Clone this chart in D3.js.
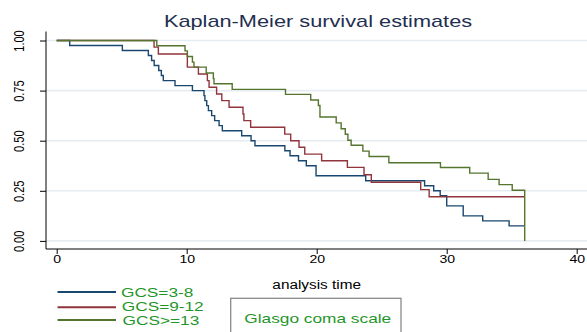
<!DOCTYPE html>
<html>
<head>
<meta charset="utf-8">
<script src="https://cdn.jsdelivr.net/npm/d3@7"></script>
<style>
  html, body { margin: 0; padding: 0; background: #fff; }
  svg { display: block; font-family: "Liberation Sans", Arial, sans-serif; }
</style>
</head>
<body>
<div id="chart"></div>
<script>
// KM estimates, one time/survival pair per GCS group
const groups = ['GCS=3-8', 'GCS=9-12', 'GCS>=13'];

const timesLow = [0, 1, 5.05, 7.05, 7.3, 7.5, 7.85, 8.05, 8.2, 9.1,
  10.44, 11.33, 11.4, 11.54, 11.67, 11.92, 12.15, 12.49, 12.74, 14.23,
  14.95, 15.25, 17.55, 17.95, 18.6, 19.2, 19.95, 23.77, 28.3, 29.0,
  29.5, 30.0, 31.27, 32.77, 34.8, 36];
const survLow = [1, .975, .95, .925, .9, .875, .85, .825, .8, .775,
  .75, .725, .7, .675, .65, .625, .6, .575, .55, .525,
  .5, .475, .45, .425, .4, .375, .325, .3, .275, .25,
  .225, .175, .125, .1, .075, .075];

const timesMid = [0, 7.49, 7.82, 10.05, 10.9, 11.59, 11.72, 12.3, 12.7, 13.26,
  14.33, 14.4, 14.92, 17.54, 18.0, 18.64, 19.08, 20.38, 22.36, 23.64,
  24.2, 28.0, 28.65, 36];
const survMid = [1, .967, .933, .867, .833, .8, .767, .733, .7, .667,
  .633, .6, .567, .533, .5, .467, .433, .4, .367, .33,
  .293, .256, .22, .22];

const timesHigh = [0, 7.7, 9.87, 10.05, 10.44, 10.56, 11.5, 12.05, 12.1, 13.5,
  17.6, 19.54, 20.13, 20.25, 21.5, 21.88, 22.2, 22.4, 22.65, 23.55,
  24.03, 25.55, 29.52, 31.77, 33.19, 34.03, 35.04, 36];
const survHigh = [1, .974, .948, .92, .892, .867, .838, .81, .784, .756,
  .731, .703, .676, .618, .589, .56, .532, .502, .477, .448,
  .421, .39, .366, .338, .307, .281, .253, 0];

const xTicks = [0, 10, 20, 30, 40];
const yTicks = [0, 0.25, 0.5, 0.75, 1];
const yTickLabels = ['0.00', '0.25', '0.50', '0.75', '1.00'];

const titleText = 'Kaplan-Meier survival estimates';
const xTitle = 'analysis time';
const legendTitle = 'Glasgo coma scale';

const colors = ['#1a476f', '#90353b', '#55752f'];
const legendGreen = '#1f962a';

const width = 587, height = 332;
// the stata export got pulled wider than it was drawn, so text is stretched
const stretch = 1.28;

const svg = d3.select('#chart').append('svg')
  .attr('width', width)
  .attr('height', height);

const x = d3.scaleLinear().domain([0, 40]).range([56.7, 576.7]);
const y = d3.scaleLinear().domain([0, 1]).range([240.9, 40.5]);

function stretchedText(g, str, px, py, size, anchor, k = stretch) {
  return g.append('text')
    .attr('transform', `translate(${px},${py}) scale(${k},1)`)
    .attr('text-anchor', anchor)
    .attr('font-size', size)
    .text(str);
}

// gridlines
svg.append('g')
  .selectAll('line')
  .data(yTicks)
  .join('line')
  .attr('x1', 46)
  .attr('x2', width)
  .attr('y1', d => y(d))
  .attr('y2', d => y(d))
  .attr('stroke', '#e6edf2')
  .attr('stroke-width', 1.6);

// x axis
const xAxis = svg.append('g')
  .attr('transform', 'translate(0,249)')
  .call(d3.axisBottom(x).tickValues(xTicks).tickSize(5).tickPadding(1).tickSizeOuter(0));
xAxis.select('.domain').remove();
xAxis.append('line').attr('x1', 46).attr('x2', width).attr('stroke', '#000');
xAxis.selectAll('.tick text')
  .attr('font-size', 11)
  .attr('fill', '#000')
  .attr('transform', `scale(${stretch},1)`);

// y axis, labels turned on their side like stata does
const yAxis = svg.append('g')
  .attr('transform', 'translate(46,0)')
  .call(d3.axisLeft(y).tickValues(yTicks).tickFormat((d, i) => yTickLabels[i]).tickSize(6).tickSizeOuter(0));
yAxis.select('.domain').remove();
yAxis.append('line').attr('y1', 31.5).attr('y2', 249).attr('stroke', '#000');
yAxis.selectAll('.tick text')
  .attr('x', 0)
  .attr('dy', 0)
  .attr('text-anchor', 'middle')
  .attr('font-size', 11)
  .attr('fill', '#000')
  .attr('transform', `translate(-22,0) scale(${stretch},1) rotate(-90)`);

// survival step curves
const line = d3.line()
  .curve(d3.curveStepAfter)
  .x(d => x(d[0]))
  .y(d => y(d[1]));

const series = [[timesLow, survLow], [timesMid, survMid], [timesHigh, survHigh]];

svg.append('g')
  .selectAll('path')
  .data(series)
  .join('path')
  .attr('d', ([t, s]) => line(d3.zip(t, s)))
  .attr('fill', 'none')
  .attr('stroke', (d, i) => colors[i])
  .attr('stroke-width', 1.4);

// titles
stretchedText(svg, titleText, 318, 27.3, 17, 'middle').attr('fill', '#1f2f50');
stretchedText(svg, xTitle, 316.7, 289, 12, 'middle').attr('fill', '#000');

// legend
const legend = svg.append('g');
const rowY = [292, 307.3, 320];
const rowText = [297, 311, 325];

legend.selectAll('line')
  .data(groups)
  .join('line')
  .attr('x1', 57.5)
  .attr('x2', 116)
  .attr('y1', (d, i) => rowY[i])
  .attr('y2', (d, i) => rowY[i])
  .attr('stroke', (d, i) => colors[i])
  .attr('stroke-width', 2);

// rows sit tight together, so a smaller font stretched a bit more
groups.forEach((g, i) => {
  stretchedText(legend, g, 121 + i * 0.8, rowText[i], 12.5, 'start', 1.38).attr('fill', legendGreen);
});

legend.append('rect')
  .attr('x', 230.7)
  .attr('y', 298.3)
  .attr('width', 170.3)
  .attr('height', 50)
  .attr('fill', 'none')
  .attr('stroke', '#8a8a8a')
  .attr('stroke-width', 1.3);

stretchedText(legend, legendTitle, 244.3, 322.7, 13.5, 'start').attr('fill', legendGreen);
</script>
</body>
</html>
